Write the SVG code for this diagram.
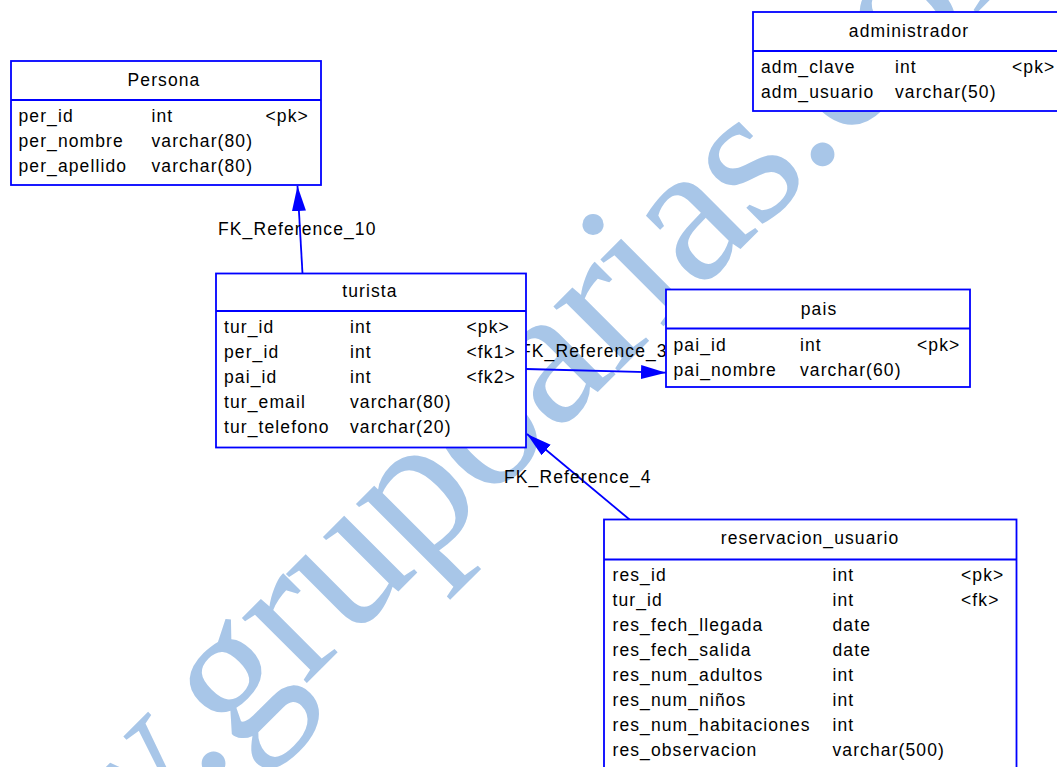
<svg xmlns="http://www.w3.org/2000/svg" width="1057" height="767" viewBox="0 0 1057 767">
<style>
.box{fill:#fff;stroke:#0000ff;stroke-width:1.8}
.sep{stroke:#0000ff;stroke-width:1.8}
.t{font-family:"Liberation Sans",Arial,sans-serif;font-size:17.5px;letter-spacing:1.1px;fill:#000}
.h{text-anchor:middle}
.wm{font-family:"Liberation Serif","Times New Roman",serif;font-size:200px;letter-spacing:-3px;fill:#A8C6E8}
.conn{stroke:#0000ff;stroke-width:1.8;fill:none;marker-end:url(#arr)}
</style>
<defs>
<marker id="arr" markerUnits="userSpaceOnUse" viewBox="0 0 25 14" refX="25" refY="7" markerWidth="25" markerHeight="14" orient="auto">
<path d="M0,0 L25,7 L0,14 z" fill="#0000ff"/>
</marker>
</defs>
<rect width="1057" height="767" fill="#fff"/>
<g id="watermark">
<text class="wm" transform="translate(-88.6 1078.3) rotate(-45)">www.grupoarias.com</text>
</g>
<g id="connectors">
<line class="conn" x1="302.5" y1="273.5" x2="297.5" y2="186"/>
<text class="t" x="218" y="235">FK_Reference_10</text>
<line class="conn" x1="526" y1="369" x2="666" y2="372.7"/>
<text class="t" x="520" y="357">FK_Reference_3</text>
<line class="conn" x1="629.5" y1="519.5" x2="527" y2="434"/>
<text class="t" x="504" y="483">FK_Reference_4</text>
</g>
<g id="persona">
<rect class="box" x="11" y="61" width="310" height="124"/>
<line class="sep" x1="11" y1="100" x2="321" y2="100"/>
<text class="t h" x="164" y="86">Persona</text>
<text class="t" x="18.5" y="122">per_id</text><text class="t" x="151.5" y="122">int</text><text class="t" x="265.5" y="122">&lt;pk&gt;</text>
<text class="t" x="18.5" y="147">per_nombre</text><text class="t" x="151.5" y="147">varchar(80)</text>
<text class="t" x="18.5" y="172">per_apellido</text><text class="t" x="151.5" y="172">varchar(80)</text>
</g>
<g id="administrador">
<rect class="box" x="753" y="12" width="312" height="99"/>
<line class="sep" x1="753" y1="51" x2="1065" y2="51"/>
<text class="t h" x="909" y="37">administrador</text>
<text class="t" x="761" y="73">adm_clave</text><text class="t" x="895" y="73">int</text><text class="t" x="1012" y="73">&lt;pk&gt;</text>
<text class="t" x="761" y="98">adm_usuario</text><text class="t" x="895" y="98">varchar(50)</text>
</g>
<g id="turista">
<rect class="box" x="216" y="273.5" width="310" height="174"/>
<line class="sep" x1="216" y1="311" x2="526" y2="311"/>
<text class="t h" x="370" y="297">turista</text>
<text class="t" x="224" y="333">tur_id</text><text class="t" x="350" y="333">int</text><text class="t" x="466.5" y="333">&lt;pk&gt;</text>
<text class="t" x="224" y="358">per_id</text><text class="t" x="350" y="358">int</text><text class="t" x="466.5" y="358">&lt;fk1&gt;</text>
<text class="t" x="224" y="383">pai_id</text><text class="t" x="350" y="383">int</text><text class="t" x="466.5" y="383">&lt;fk2&gt;</text>
<text class="t" x="224" y="408">tur_email</text><text class="t" x="350" y="408">varchar(80)</text>
<text class="t" x="224" y="433">tur_telefono</text><text class="t" x="350" y="433">varchar(20)</text>
</g>
<g id="pais">
<rect class="box" x="666" y="289.5" width="304" height="97.5"/>
<line class="sep" x1="666" y1="328.5" x2="970" y2="328.5"/>
<text class="t h" x="819" y="315">pais</text>
<text class="t" x="673.5" y="351">pai_id</text><text class="t" x="800" y="351">int</text><text class="t" x="917" y="351">&lt;pk&gt;</text>
<text class="t" x="673.5" y="376">pai_nombre</text><text class="t" x="800" y="376">varchar(60)</text>
</g>
<g id="reservacion_usuario">
<rect class="box" x="604" y="519.5" width="412.5" height="260"/>
<line class="sep" x1="604" y1="559.5" x2="1016.5" y2="559.5"/>
<text class="t h" x="810" y="543.5">reservacion_usuario</text>
<text class="t" x="612.5" y="581">res_id</text><text class="t" x="832.5" y="581">int</text><text class="t" x="961" y="581">&lt;pk&gt;</text>
<text class="t" x="612.5" y="606">tur_id</text><text class="t" x="832.5" y="606">int</text><text class="t" x="961" y="606">&lt;fk&gt;</text>
<text class="t" x="612.5" y="631">res_fech_llegada</text><text class="t" x="832.5" y="631">date</text>
<text class="t" x="612.5" y="656">res_fech_salida</text><text class="t" x="832.5" y="656">date</text>
<text class="t" x="612.5" y="681">res_num_adultos</text><text class="t" x="832.5" y="681">int</text>
<text class="t" x="612.5" y="706">res_num_niños</text><text class="t" x="832.5" y="706">int</text>
<text class="t" x="612.5" y="731">res_num_habitaciones</text><text class="t" x="832.5" y="731">int</text>
<text class="t" x="612.5" y="756">res_observacion</text><text class="t" x="832.5" y="756">varchar(500)</text>
</g>
</svg>
